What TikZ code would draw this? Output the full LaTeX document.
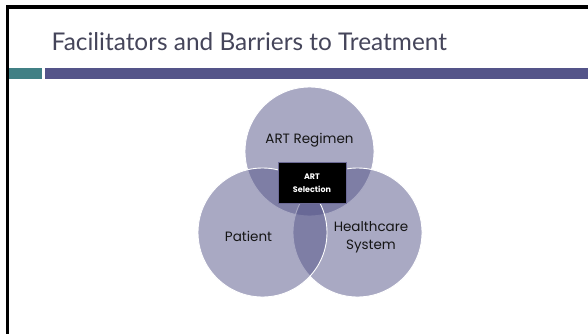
\documentclass[tikz,border=0pt]{standalone}
\usepackage{fontspec}
\setmainfont{Poppins}
\newfontfamily\titlefont{Lato}
\definecolor{bandpurple}{HTML}{545489}
\definecolor{bandteal}{HTML}{418085}
\definecolor{titlegray}{HTML}{45455A}
\definecolor{boxedge}{HTML}{6C6A96}
\definecolor{labelink}{HTML}{151515}
\begin{document}
\begin{tikzpicture}[x=1pt,y=-1pt,
  venn/.style={circle, minimum size=129pt, inner sep=0pt,
    fill=bandpurple, fill opacity=0.5, draw=white, line width=0.9pt},
  venntext/.style={font=\fontsize{13.5}{18}\selectfont, text=labelink, align=center, inner sep=0pt},
  selbox/.style={fill=black, draw=boxedge, line width=0.9pt, minimum width=68pt,
    minimum height=40.5pt, inner sep=0pt, text=white, align=center,
    font=\fontsize{8}{13}\selectfont\bfseries}]
  \useasboundingbox (0,0) rectangle (588,334);
  \fill[white] (0,0) rectangle (588,334);
  % slide frame (left and top edges)
  \fill[black] (5.5,5.5) rectangle (9,334);
  \fill[black] (5.5,5.5) rectangle (588,8.6);
  % title
  \node[anchor=base west, inner sep=0pt, text=titlegray,
    font=\titlefont\fontsize{24.4}{27}\selectfont] (title) at (51.5,51)
    {Facilitators and Barriers to Treatment};
  % accent band
  \fill[bandteal] (9,68) rectangle (42,79);
  \fill[bandpurple] (45,68) rectangle (588,79);
  % three overlapping circles
  \node[venn] (regimen) at (309.5,151.5) {};
  \node[venn] (system) at (357.5,232.5) {};
  \node[venn] (patient) at (262.5,232.5) {};
  % labels
  \node[venntext] (lregimen) at (309.5,140) {ART Regimen};
  \node[venntext] (lpatient) at (248.5,236.5) {Patient};
  \node[venntext] (lsystem) at (371,237) {Healthcare\\System};
  % centre box
  \node[selbox] (selection) at (312,183) {ART\\Selection};
\end{tikzpicture}
\end{document}
